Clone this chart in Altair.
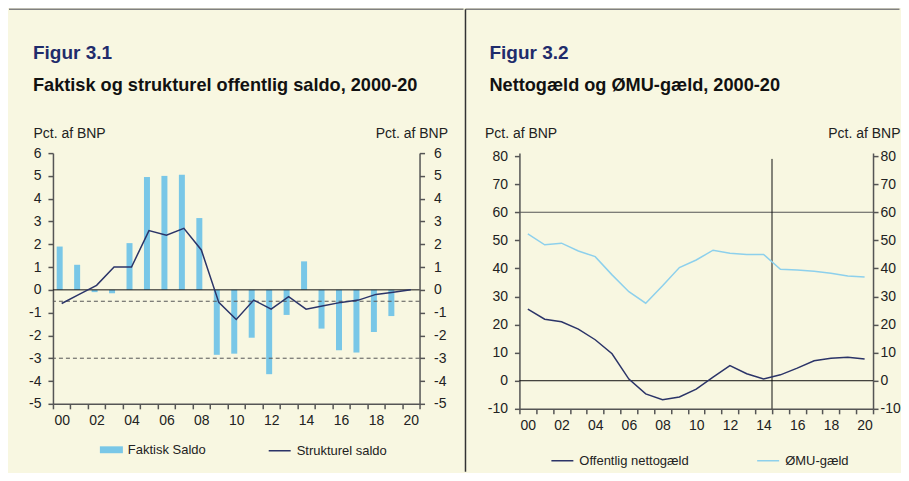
import altair as alt
import pandas as pd

# ---------------- data ----------------
years = [f"{y:02d}" for y in range(0, 21)]
faktisk = [1.9, 1.1, -0.1, -0.15, 2.05, 4.95, 5.0, 5.05, 3.15, -2.85, -2.8,
           -2.1, -3.7, -1.1, 1.25, -1.7, -2.65, -2.75, -1.85, -1.15, 0.0]
strukturel = [-0.6, -0.2, 0.2, 1.0, 1.0, 2.6, 2.4, 2.7, 1.75, -0.55, -1.3,
              -0.45, -0.85, -0.3, -0.85, -0.7, -0.55, -0.45, -0.2, -0.1, 0.0]
netto = [25.5, 21.9, 21.0, 18.4, 14.6, 9.6, 0.6, -4.7, -6.8, -5.8, -3.0,
         1.3, 5.4, 2.5, 0.6, 2.1, 4.5, 7.1, 8.0, 8.4, 7.7]
omu = [52.3, 48.4, 49.0, 46.2, 44.2, 37.7, 31.7, 27.6, 33.8, 40.3, 43.0,
       46.5, 45.4, 45.0, 45.0, 39.7, 39.4, 39.0, 38.3, 37.3, 36.9]
dash_levels = [-0.5, -3]
limit_level = [60]
split_year = ["14"]
series1 = ["Faktisk Saldo", "Strukturel saldo"]
series2 = ["Offentlig nettogæld", "ØMU-gæld"]
titles1 = ["Figur 3.1", "Faktisk og strukturel offentlig saldo, 2000-20"]
titles2 = ["Figur 3.2", "Nettogæld og ØMU-gæld, 2000-20"]
unit = "Pct. af BNP"

FONT = "Liberation Sans"
BG = "#F8F7E1"
NAVY = "#2B3468"
BAR = "#79C7E7"
LIGHT = "#8DD0EC"
TNAVY = "#1F2C6B"
AX = "#555555"

W1, H1 = 367, 251
W2, H2 = 354, 256


def xaxis():
    return alt.Axis(tickBand="extent", labelAngle=0, labelPadding=5, tickSize=5,
                    labelExpr="toNumber(datum.value) % 2 == 0 ? datum.value : ''")


def xenc():
    return alt.X("lab:O", title=None, sort=years,
                 scale=alt.Scale(type="band", paddingInner=0, paddingOuter=0),
                 axis=xaxis())


def yenc(domain, values, orient, tx, ty, align, pad):
    return alt.Y(
        "v:Q", title=unit,
        scale=alt.Scale(domain=domain, nice=False, zero=False),
        axis=alt.Axis(values=values, orient=orient, titleAngle=0, titleAlign=align,
                      titleBaseline="alphabetic", titleX=tx, titleY=ty,
                      labelExpr="toString(datum.value)",
                      titleFontSize=14, labelPadding=pad, tickSize=5, grid=False),
    )


one = pd.DataFrame({"d": [0]})


def text_mark(txt, x, y, size, color):
    return alt.Chart(pd.DataFrame({"t": [txt]})).mark_text(
        align="left", baseline="alphabetic", font=FONT, fontSize=size,
        fontWeight="bold", color=color,
    ).encode(text="t:N", x=alt.value(x), y=alt.value(y))


# ---------------- panel 1 ----------------
dom1 = [-5, 6]
vals1 = list(range(-5, 7))
yl1 = yenc(dom1, vals1, "left", -20, -15.5, "left", 7)
yr1 = yenc(dom1, vals1, "right", 28, -15.5, "right", 9)

df_bar = pd.DataFrame({"lab": years, "v": faktisk, "s": series1[0]})
df_line = pd.DataFrame({"lab": years, "v": strukturel, "s": series1[1]})

bars = alt.Chart(df_bar).mark_bar(size=6, xOffset=-2).encode(
    x=xenc(), y=yl1,
    fill=alt.Fill("s:N", scale=alt.Scale(domain=[series1[0]], range=[BAR]),
                  legend=alt.Legend(orient="none", legendX=47, legendY=285.5, title=None,
                                    symbolType="M-1,-0.3H1V0.3H-1Z", symbolSize=529,
                                    symbolStrokeWidth=0, labelFontSize=13, labelOffset=5)),
)
zero1 = alt.Chart(pd.DataFrame({"v": [0]})).mark_rule(color="#111111", strokeWidth=1).encode(y=yl1)
dash1 = alt.Chart(pd.DataFrame({"v": dash_levels})).mark_rule(
    color="#555555", strokeWidth=1, strokeDash=[4, 3]).encode(y=yl1)
top1 = alt.Chart(one).mark_rule(color="#808080", strokeWidth=1.5).encode(
    x=alt.value(-44), x2=alt.value(411), y=alt.value(-144))
tt1 = text_mark(titles1[0], -20, -94, 19, TNAVY)
ts1 = text_mark(titles1[1], -20, -62, 18.2, "#111111")

line1 = alt.Chart(df_line).mark_line(strokeWidth=1.5).encode(
    x=xenc(), y=yr1,
    stroke=alt.Stroke("s:N", scale=alt.Scale(domain=[series1[1]], range=[NAVY]),
                      legend=alt.Legend(orient="none", legendX=215, legendY=286, title=None,
                                        symbolType="stroke", symbolSize=484,
                                        symbolStrokeWidth=1.5, labelFontSize=13, labelOffset=5)),
)

inner1 = alt.layer(top1, tt1, ts1, bars, dash1, zero1)
panel1 = alt.layer(inner1, line1).resolve_scale(y="independent").properties(width=W1, height=H1)

# ---------------- panel 2 ----------------
dom2 = [-10, 81.07]
vals2 = list(range(-10, 81, 10))
yl2 = yenc(dom2, vals2, "left", -35, -15.5, "left", 7)
yr2 = yenc(dom2, vals2, "right", 27, -15.5, "right", 2)

df_net = pd.DataFrame({"lab": years, "v": netto, "s": series2[0]})
df_omu = pd.DataFrame({"lab": years, "v": omu, "s": series2[1]})


def stroke2():
    return alt.Stroke("s:N", scale=alt.Scale(domain=series2, range=[NAVY, LIGHT]),
                      legend=alt.Legend(orient="none", legendX=31, legendY=296, title=None,
                                        direction="horizontal", columnPadding=65,
                                        symbolType="stroke", symbolSize=484,
                                        symbolStrokeWidth=1.5, labelFontSize=13, labelOffset=5))


net_line = alt.Chart(df_net).mark_line(strokeWidth=1.5).encode(x=xenc(), y=yl2, stroke=stroke2())
omu_line = alt.Chart(df_omu).mark_line(strokeWidth=1.5).encode(x=xenc(), y=yr2, stroke=stroke2())
zero2 = alt.Chart(pd.DataFrame({"v": [0]})).mark_rule(color="#111111", strokeWidth=1).encode(y=yl2)
lim2 = alt.Chart(pd.DataFrame({"v": limit_level})).mark_rule(color="#555555", strokeWidth=1.2).encode(y=yl2)
vline = alt.Chart(pd.DataFrame({"lab": split_year, "v": [79], "v2": [-10]})).mark_rule(
    color="#111111", strokeWidth=1).encode(
    x=alt.X("lab:O", sort=years, bandPosition=1, title=None,
            scale=alt.Scale(type="band", paddingInner=0, paddingOuter=0), axis=xaxis()),
    y=yl2, y2="v2:Q")
top2 = alt.Chart(one).mark_rule(color="#808080", strokeWidth=1.5).encode(
    x=alt.value(-54), x2=alt.value(380.5), y=alt.value(-144))
div2 = alt.Chart(one).mark_rule(color="#333333", strokeWidth=1.5).encode(
    x=alt.value(-54), y=alt.value(-144), y2=alt.value(319))
tt2 = text_mark(titles2[0], -30, -94, 19, TNAVY)
ts2 = text_mark(titles2[1], -30, -62, 18.2, "#111111")

inner2 = alt.layer(top2, div2, tt2, ts2, lim2, zero2, vline, net_line)
panel2 = alt.layer(inner2, omu_line).resolve_scale(y="independent").properties(width=W2, height=H2)

chart = alt.hconcat(panel1, panel2, spacing=0).resolve_scale(
    x="independent", y="independent", fill="independent", stroke="independent"
).resolve_legend(fill="independent", stroke="independent").properties(
    padding={"left": 0, "top": 0, "right": 0, "bottom": 0}, background=BG
).configure_view(stroke=None).configure_axis(
    labelFont=FONT, titleFont=FONT, labelFontSize=14, labelColor="#222222",
    titleColor="#222222", titleFontWeight="normal", domainColor=AX, tickColor=AX,
    domainWidth=1.5, tickWidth=1.5, grid=False,
).configure_legend(labelFont=FONT, labelFontSize=13, labelColor="#222222")

chart.save("out.html", embed_options={"renderer": "svg", "actions": False})
